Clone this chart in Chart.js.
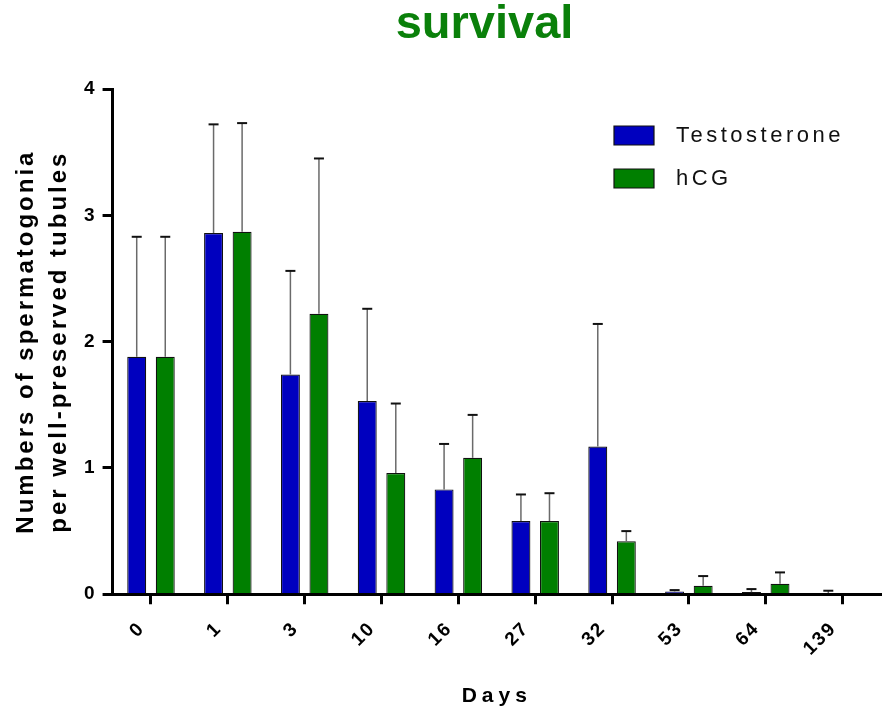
<!DOCTYPE html>
<html>
<head>
<meta charset="utf-8">
<script src="https://cdn.jsdelivr.net/npm/chart.js@4.4.1/dist/chart.umd.min.js"></script>
<style>
  html, body { margin: 0; padding: 0; background: #fff; }
  #wrap { width: 884px; height: 714px; }
</style>
</head>
<body>
<div id="wrap"><canvas id="chart" width="884" height="714"></canvas></div>
<script>
// values (mean, and upper error = SD above the mean)
var days = ['0', '1', '3', '10', '16', '27', '32', '53', '64', '139'];
var testosterone    = [1.88, 2.86, 1.74, 1.53, 0.83, 0.58, 1.17, 0.022, 0.017, 0.01];
var testosteroneErr = [0.95, 0.86, 0.82, 0.73, 0.36, 0.21, 0.97, 0.011, 0.024, 0.018];
var hcg             = [1.88, 2.87, 2.22, 0.96, 1.08, 0.58, 0.42, 0.067, 0.083, 0];
var hcgErr          = [0.95, 0.86, 1.23, 0.55, 0.34, 0.22, 0.08, 0.077, 0.09, 0];
var yTicks = [0, 1, 2, 3, 4];

var FONT = "'Liberation Sans', Arial, Helvetica, sans-serif";

// wrap a draw method so its text gets letter spacing (and optional x shift)
function spaced(obj, name, spacing, dx) {
  if (obj['__sp_' + name]) return;
  obj['__sp_' + name] = true;
  var orig = obj[name];
  obj[name] = function () {
    var ctx = this.ctx;
    ctx.save();
    ctx.letterSpacing = spacing;
    if (dx) {
      var ft = CanvasRenderingContext2D.prototype.fillText;
      ctx.fillText = function () {
        var a = Array.prototype.slice.call(arguments);
        a[1] += dx;
        return ft.apply(this, a);
      };
    }
    var r = orig.apply(this, arguments);
    if (dx) delete ctx.fillText;
    ctx.restore();
    return r;
  };
}

var tweaks = {
  id: 'tweaks',
  afterLayout: function (chart) {
    var area = chart.chartArea;
    var t = chart.titleBlock;
    t.left = 484.5 - 200;
    t.right = 484.5 + 200;
    var lg = chart.legend;
    lg.left = 593;
    lg.top = 103.5;
    lg.right = chart.width;
    lg.bottom = area.bottom;
  },
  beforeDraw: function (chart) {
    spaced(chart.scales.y, 'drawTitle', '3px');
    spaced(chart.scales.x, 'drawTitle', '5px');
    spaced(chart.scales.x, 'drawLabels', '2px');
    spaced(chart.legend, 'draw', '3.5px', 11);
  }
};

var errorBars = {
  id: 'errorBars',
  afterDatasetsDraw: function (chart) {
    var ctx = chart.ctx;
    var y = chart.scales.y;
    chart.data.datasets.forEach(function (ds, i) {
      if (!ds.errors) return;
      var meta = chart.getDatasetMeta(i);
      meta.data.forEach(function (bar, j) {
        var e = ds.errors[j];
        if (!e) return;
        var top = y.getPixelForValue(ds.data[j] + e);
        ctx.save();
        ctx.strokeStyle = '#6a6a6a';
        ctx.lineWidth = 1.5;
        ctx.beginPath();
        ctx.moveTo(bar.x, bar.y);
        ctx.lineTo(bar.x, top);
        ctx.stroke();
        ctx.strokeStyle = '#111';
        ctx.lineWidth = 2;
        ctx.beginPath();
        ctx.moveTo(bar.x - 5, top);
        ctx.lineTo(bar.x + 5, top);
        ctx.stroke();
        ctx.restore();
      });
    });
  }
};

new Chart(document.getElementById('chart').getContext('2d'), {
  type: 'bar',
  data: {
    labels: days,
    datasets: [
      {
        label: 'Testosterone',
        data: testosterone,
        errors: testosteroneErr,
        backgroundColor: '#0000BF',
        borderColor: '#111',
        borderWidth: 1.2
      },
      {
        label: 'hCG',
        data: hcg,
        errors: hcgErr,
        backgroundColor: '#007F00',
        borderColor: '#111',
        borderWidth: 1.2
      }
    ]
  },
  options: {
    responsive: false,
    animation: false,
    categoryPercentage: 0.743,
    barPercentage: 0.664,
    layout: { padding: { left: 0, right: 3, top: 0, bottom: 0 } },
    plugins: {
      title: {
        display: true,
        text: 'survival',
        color: '#0A800A',
        fullSize: false,
        font: { family: FONT, size: 47, weight: 'bold', lineHeight: 1 },
        padding: { top: 2, bottom: 40 }
      },
      legend: {
        position: 'chartArea',
        align: 'start',
        labels: {
          boxWidth: 40,
          boxHeight: 19,
          padding: 21,
          color: '#111',
          font: { family: FONT, size: 22 }
        }
      },
      tooltip: { enabled: false }
    },
    scales: {
      x: {
        grid: {
          drawOnChartArea: false,
          offset: false,
          tickLength: 10,
          tickWidth: 3,
          tickColor: '#000'
        },
        border: { color: '#000', width: 3, z: 1 },
        ticks: {
          color: '#000',
          font: { family: FONT, size: 19, weight: 'bold' },
          minRotation: 45,
          maxRotation: 45,
          padding: 13,
          labelOffset: -9
        },
        title: {
          display: true,
          text: 'Days',
          color: '#000',
          font: { family: FONT, size: 21, weight: 'bold' },
          padding: { top: 15, bottom: 5 }
        }
      },
      y: {
        min: 0,
        max: 4,
        afterBuildTicks: function (axis) {
          axis.ticks = yTicks.map(function (v) { return { value: v }; });
        },
        grid: {
          drawOnChartArea: false,
          tickLength: 10,
          tickWidth: 3,
          tickColor: '#000'
        },
        border: { color: '#000', width: 3, z: 1 },
        ticks: {
          color: '#000',
          font: { family: FONT, size: 19, weight: 'bold' },
          padding: 8
        },
        title: {
          display: true,
          text: ['Numbers of spermatogonia', 'per well-preserved tubules'],
          color: '#000',
          font: { family: FONT, size: 24, weight: 'bold', lineHeight: 1.375 },
          padding: { top: 10, bottom: 0 }
        }
      }
    }
  },
  plugins: [tweaks, errorBars]
});
</script>
</body>
</html>
